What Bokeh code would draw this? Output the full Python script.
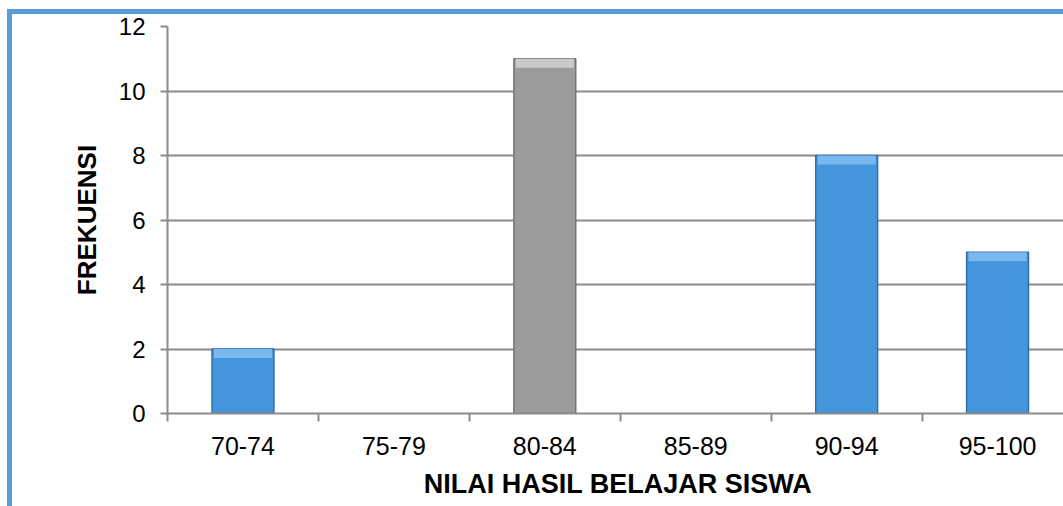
from bokeh.plotting import figure
from bokeh.models import Range1d, FixedTicker, ColumnDataSource
from bokeh.embed import file_html
from bokeh.resources import INLINE

# ---- data ----
categories = ["70-74", "75-79", "80-84", "85-89", "90-94", "95-100"]
frequencies = [2, 0, 11, 0, 8, 5]
highlight = [False, False, True, False, False, False]
y_ticks = [0, 2, 4, 6, 8, 10, 12]

# ---- styling ----
BLUE, BLUE_EDGE, BLUE_TOP = "#4595dc", "#2f6fae", "#79b9f0"
GRAY, GRAY_EDGE, GRAY_TOP = "#9c9c9c", "#767676", "#cacaca"
GRID = "#8c8c8c"
FONT = "Liberation Sans"

xs = [i + 0.5 for i in range(len(categories))]
fill = [GRAY if h else BLUE for h in highlight]
edge = [GRAY_EDGE if h else BLUE_EDGE for h in highlight]
topc = [GRAY_TOP if h else BLUE_TOP for h in highlight]
alpha = [1 if v > 0 else 0 for v in frequencies]

src = ColumnDataSource(dict(x=xs, top=frequencies, fill=fill, edge=edge, a=alpha))
nz = [i for i, v in enumerate(frequencies) if v > 0]
bevel = ColumnDataSource(dict(
    x=[xs[i] for i in nz],
    top=[frequencies[i] for i in nz],
    bottom=[frequencies[i] - 0.28 for i in nz],
    fill=[topc[i] for i in nz],
))

BAR_W = 0.41
x_end = 5.97

p = figure(width=1056, height=497, output_backend="svg", toolbar_location=None,
           x_range=Range1d(0, x_end), y_range=Range1d(0, 12),
           min_border_left=155, min_border_top=12, min_border_right=0,
           min_border_bottom=98)
p.styles = {"border-left": "5px solid #5b9bd5", "border-top": "5px solid #5b9bd5",
            "margin-left": "7px", "margin-top": "9px"}
p.outline_line_color = None
p.background_fill_color = "white"
p.border_fill_color = "white"

# bars
p.vbar(x="x", top="top", width=BAR_W, source=src, fill_color="fill",
       fill_alpha="a", line_color="edge", line_alpha="a", line_width=1.5)
p.vbar(x="x", top="top", bottom="bottom", width=BAR_W * 0.94, source=bevel,
       fill_color="fill", line_color=None)

# grid
p.xgrid.grid_line_color = None
p.ygrid.ticker = FixedTicker(ticks=y_ticks)
p.ygrid.grid_line_color = GRID
p.ygrid.grid_line_width = 2
p.ygrid.level = "underlay"

# y axis
ya = p.yaxis[0]
ya.ticker = FixedTicker(ticks=y_ticks)
ya.axis_line_color = GRID
ya.axis_line_width = 2
ya.major_tick_line_color = GRID
ya.major_tick_line_width = 2
ya.major_tick_out = 7
ya.major_tick_in = 0
ya.minor_tick_line_color = None
ya.major_label_text_font = FONT
ya.major_label_text_font_size = "24px"
ya.major_label_text_color = "black"
ya.major_label_standoff = 15
ya.axis_label = "FREKUENSI"
ya.axis_label_text_font = FONT
ya.axis_label_text_font_style = "bold"
ya.axis_label_text_font_size = "26px"
ya.axis_label_text_color = "black"
ya.axis_label_standoff = 14

# x axis
xa = p.xaxis[0]
xa.ticker = FixedTicker(ticks=xs, minor_ticks=list(range(len(categories) + 1)))
xa.major_label_overrides = {x: c for x, c in zip(xs, categories)}
xa.axis_line_color = GRID
xa.axis_line_width = 2
xa.major_tick_out = 0
xa.major_tick_in = 0
xa.major_tick_line_color = None
xa.minor_tick_line_color = GRID
xa.minor_tick_line_width = 2
xa.minor_tick_out = 8
xa.minor_tick_in = 0
xa.major_label_text_font = FONT
xa.major_label_text_font_size = "25px"
xa.major_label_text_color = "black"
xa.major_label_standoff = 15
xa.axis_label = "NILAI HASIL BELAJAR SISWA"
xa.axis_label_text_font = FONT
xa.axis_label_text_font_style = "bold"
xa.axis_label_text_font_size = "27px"
xa.axis_label_text_color = "black"
xa.axis_label_standoff = 11

open("out.html", "w").write(file_html(p, INLINE))
